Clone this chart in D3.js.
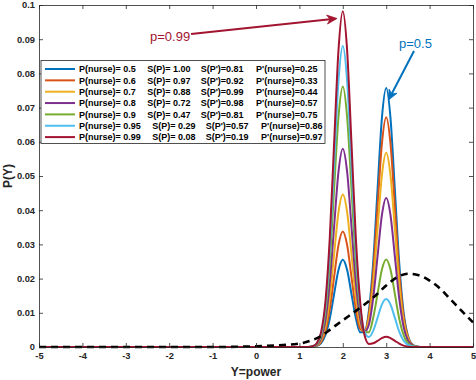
<!DOCTYPE html>
<html><head><meta charset="utf-8">
<script src="https://cdn.jsdelivr.net/npm/d3@7"></script>
<style>
html,body{margin:0;padding:0;background:#fff;}
text{font-family:"Liberation Sans",Arial,Helvetica,sans-serif;}
</style></head>
<body><svg id="c" width="476" height="380"></svg>
<script>
// ---- data ----
const xs = [-5, 1.1, 1.2, 1.3, 1.4, 1.5, 1.6, 1.7, 1.8, 1.9, 2.0, 2.1, 2.2, 2.3, 2.4, 2.5, 2.6, 2.7, 2.8, 2.9, 3.0, 3.1, 3.2, 3.3, 3.4, 3.5, 3.6, 3.7, 3.8, 3.9, 5];
const p50 = [0,0,0,0.0001,0.0003,0.0011,0.0035,0.0083,0.0155,0.0225,0.0255,0.0225,0.0155,0.0085,0.0043,0.0044,0.0105,0.0247,0.0459,0.0668,0.0757,0.0668,0.0459,0.0246,0.0102,0.0033,0.0008,0.0002,0,0,0];
const p60 = [0,0,0,0.0001,0.0004,0.0015,0.0046,0.0110,0.0205,0.0298,0.0338,0.0298,0.0205,0.0111,0.0053,0.0045,0.0095,0.0219,0.0408,0.0593,0.0672,0.0593,0.0408,0.0218,0.0091,0.0030,0.0007,0.0001,0,0,0];
const p70 = [0,0,0,0.0001,0.0005,0.0020,0.0060,0.0145,0.0271,0.0394,0.0446,0.0394,0.0271,0.0146,0.0066,0.0045,0.0082,0.0185,0.0344,0.0501,0.0568,0.0501,0.0344,0.0184,0.0077,0.0025,0.0006,0.0001,0,0,0];
const p80 = [0,0,0,0.0001,0.0006,0.0025,0.0078,0.0188,0.0352,0.0512,0.0580,0.0512,0.0352,0.0189,0.0083,0.0044,0.0065,0.0143,0.0264,0.0385,0.0436,0.0385,0.0264,0.0142,0.0059,0.0019,0.0005,0.0001,0,0,0];
const p90 = [0,0,0,0.0002,0.0008,0.0033,0.0103,0.0247,0.0462,0.0672,0.0762,0.0672,0.0462,0.0248,0.0106,0.0044,0.0043,0.0085,0.0155,0.0226,0.0256,0.0226,0.0155,0.0083,0.0035,0.0011,0.0003,0.0001,0,0,0];
const p95 = [0,0,0,0.0002,0.0010,0.0039,0.0119,0.0286,0.0534,0.0777,0.0880,0.0777,0.0534,0.0286,0.0121,0.0045,0.0029,0.0047,0.0085,0.0124,0.0140,0.0124,0.0085,0.0045,0.0019,0.0006,0.0002,0,0,0,0];
const p99 = [0,0,0,0.0002,0.0011,0.0043,0.0133,0.0319,0.0596,0.0867,0.0982,0.0867,0.0596,0.0319,0.0133,0.0035,0.0009,0.0011,0.0018,0.0026,0.0030,0.0026,0.0018,0.0010,0.0004,0.0001,0,0,0,0,0];

const priorX = [-5, -1, 0, 0.5, 1.0, 1.25, 1.5, 1.75, 2.0, 2.25, 2.5, 2.75, 3.0, 3.25, 3.5, 3.75, 4.0, 4.25, 4.5, 4.75, 5.0];
const priorY = [0, 0, 0.0002, 0.0005, 0.0010, 0.0018, 0.0032, 0.0055, 0.0078, 0.0101, 0.0124, 0.0150, 0.0180, 0.0204, 0.0214, 0.0210, 0.0194, 0.0170, 0.0137, 0.0104, 0.0072];

const pNurse = ["0.5", "0.6", "0.7", "0.8", "0.9", "0.95", "0.99"];
const sP     = ["1.00", "0.97", "0.88", "0.72", "0.47", "0.29", "0.08"];
const sPp    = ["0.81", "0.92", "0.99", "0.98", "0.81", "0.57", "0.19"];
const pPrime = ["0.25", "0.33", "0.44", "0.57", "0.75", "0.86", "0.97"];
const colors = ["#0072BD", "#D95319", "#EDB120", "#7E2F8E", "#77AC30", "#4DBEEE", "#A2142F"];
const seriesList = [p50, p60, p70, p80, p90, p95, p99];

const xTicks = [-5, -4, -3, -2, -1, 0, 1, 2, 3, 4, 5];
const xTickLabels = ["-5", "-4", "-3", "-2", "-1", "0", "1", "2", "3", "4", "5"];
const yTicks = [0, 0.01, 0.02, 0.03, 0.04, 0.05, 0.06, 0.07, 0.08, 0.09, 0.1];
const yTickLabels = ["0", "0.01", "0.02", "0.03", "0.04", "0.05", "0.06", "0.07", "0.08", "0.09", "0.1"];
const xLabel = "Y=power", yLabel = "P(Y)";

// ---- layout ----
const L = 39, R = 473, T = 5, B = 347;
const svg = d3.select("#c");
const x = d3.scaleLinear().domain([-5, 5]).range([L, R]);
const y = d3.scaleLinear().domain([0, 0.1]).range([B, T]);
const axColor = "#262626";

const line = d3.line().x(d => x(d[0])).y(d => y(d[1])).curve(d3.curveMonotoneX);
const plot = svg.append("g");
seriesList.forEach((s, i) => {
  plot.append("path").datum(xs.map((v, j) => [v, s[j]]))
    .attr("d", line).attr("fill", "none").attr("stroke", colors[i])
    .attr("stroke-width", 2).attr("stroke-linejoin", "round");
});
plot.append("path").datum(priorX.map((v, j) => [v, priorY[j]]))
  .attr("d", line).attr("fill", "none").attr("stroke", "#000")
  .attr("stroke-width", 2.6).attr("stroke-dasharray", "7,5");

// axes
function styleAxis(g) {
  g.selectAll("path,line").attr("stroke", axColor).attr("stroke-width", 0.8);
  g.selectAll("text").attr("fill", axColor).attr("font-size", "9.3px").attr("font-weight", "bold")
    .style("font-family", '"Liberation Sans",Arial,sans-serif');
}
svg.append("g").attr("transform", `translate(0,${B})`)
  .call(d3.axisBottom(x).tickValues(xTicks).tickSizeInner(-4).tickSizeOuter(0).tickPadding(5).tickFormat((d, i) => xTickLabels[i]))
  .call(styleAxis);
svg.append("g").attr("transform", `translate(0,${T})`)
  .call(d3.axisTop(x).tickValues(xTicks).tickSizeInner(-4).tickSizeOuter(0).tickFormat(""))
  .call(styleAxis);
svg.append("g").attr("transform", `translate(${L},0)`)
  .call(d3.axisLeft(y).tickValues(yTicks).tickSizeInner(-4).tickSizeOuter(0).tickPadding(4).tickFormat((d, i) => yTickLabels[i]))
  .call(styleAxis);
svg.append("g").attr("transform", `translate(${R},0)`)
  .call(d3.axisRight(y).tickValues(yTicks).tickSizeInner(-4).tickSizeOuter(0).tickFormat(""))
  .call(styleAxis);

svg.append("text").attr("x", (L + R) / 2).attr("y", 376).attr("text-anchor", "middle")
  .attr("font-size", "12px").attr("font-weight", "bold").attr("fill", axColor).text(xLabel);
svg.append("text").attr("transform", `translate(12,${(T + B) / 2}) rotate(-90)`).attr("text-anchor", "middle")
  .attr("font-size", "12px").attr("font-weight", "bold").attr("fill", axColor).text(yLabel);

// legend
const lg = svg.append("g");
lg.append("rect").attr("x", 41).attr("y", 60.5).attr("width", 284).attr("height", 83)
  .attr("fill", "#fff").attr("stroke", axColor).attr("stroke-width", 0.8);
const rowY0 = 69, rowDy = 11.35;
let baseW = null;
pNurse.forEach((p, i) => {
  const cy = rowY0 + i * rowDy;
  lg.append("line").attr("x1", 45).attr("x2", 75).attr("y1", cy).attr("y2", cy)
    .attr("stroke", colors[i]).attr("stroke-width", 2);
  const t0 = lg.append("text").attr("x", 79).attr("y", cy + 3.3).attr("font-size", "9px")
    .attr("font-weight", "bold").attr("fill", "#000").text(`P(nurse)= ${p}`);
  const w = t0.node().getComputedTextLength();
  if (baseW === null) baseW = w;
  const sh = w - baseW;
  [[147.3, `S(P)= ${sP[i]}`], [200.7, `S(P')=${sPp[i]}`], [256, `P'(nurse)=${pPrime[i]}`]].forEach(([cx, s]) => {
    lg.append("text").attr("x", cx + sh).attr("y", cy + 3.3).attr("font-size", "9px")
      .attr("font-weight", "bold").attr("fill", "#000").text(s);
  });
});

// annotations
function arrow(x1, y1, x2, y2, col) {
  const ang = Math.atan2(y2 - y1, x2 - x1);
  const hl = 10, hw = 4.5, notch = 3;
  const c = Math.cos(ang), s = Math.sin(ang);
  const bx = x2 - hl * c, by = y2 - hl * s;
  const nx = x2 - (hl - notch) * c, ny = y2 - (hl - notch) * s;
  svg.append("line").attr("x1", x1).attr("y1", y1).attr("x2", nx).attr("y2", ny)
    .attr("stroke", col).attr("stroke-width", 2);
  svg.append("path").attr("d", `M${x2},${y2}L${bx - hw * s},${by + hw * c}L${nx},${ny}L${bx + hw * s},${by - hw * c}Z`)
    .attr("fill", col).attr("stroke", col).attr("stroke-width", 0.8);
}
arrow(191, 34, 337, 18.5, "#A2142F");
svg.append("text").attr("x", 150).attr("y", 40.5).attr("font-size", "13px").attr("fill", "#A2142F").text("p=0.99");
arrow(414, 51, 388.5, 100, "#0072BD");
svg.append("text").attr("x", 399).attr("y", 48).attr("font-size", "13px").attr("fill", "#0072BD").text("p=0.5");
</script></body></html>
